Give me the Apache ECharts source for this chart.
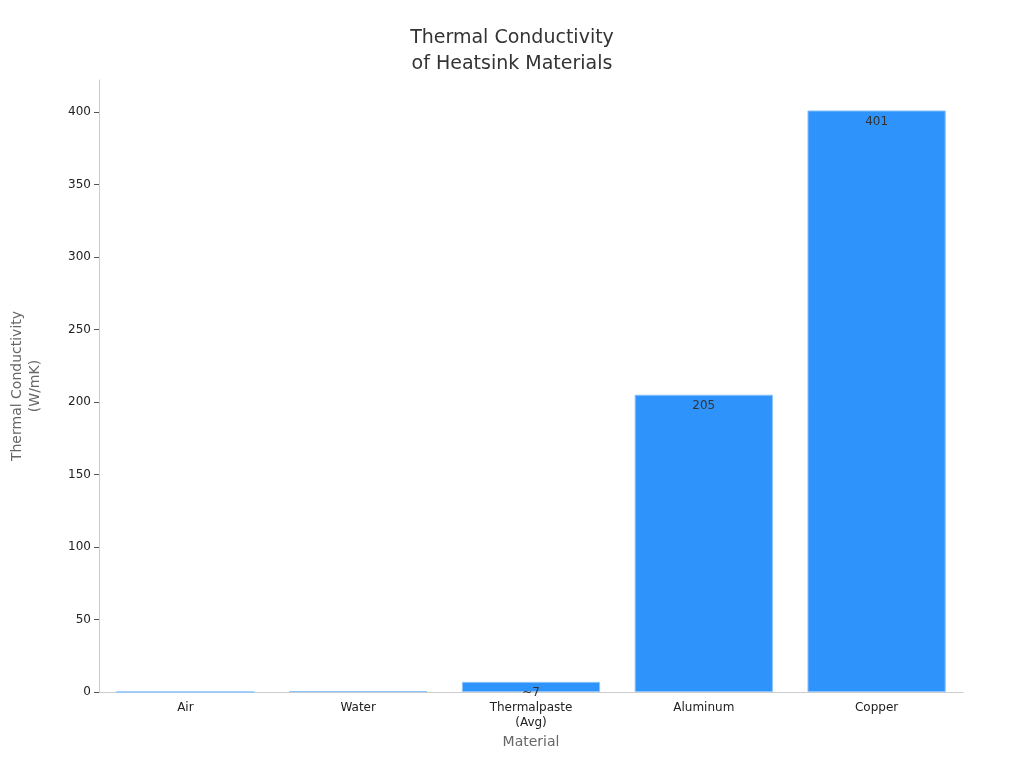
<!DOCTYPE html>
<html>
<head>
<meta charset="utf-8">
<script src="https://cdn.jsdelivr.net/npm/echarts@6/dist/echarts.min.js"></script>
<style>html,body{margin:0;padding:0;background:#fff}#chart{width:1024px;height:768px}</style>
</head>
<body>
<div id="chart"></div>
<script>
const materials = ["Air", "Water", "Thermalpaste\n(Avg)", "Aluminum", "Copper"];
const conductivity = [0.026, 0.6, 7, 205, 401];
const labels = ["", "", "~7", "205", "401"];

const chart = echarts.init(document.getElementById("chart"));
chart.setOption({
  textStyle: { fontFamily: "DejaVu Sans" },
  title: {
    text: "Thermal Conductivity\nof Heatsink Materials",
    left: "center",
    top: 20,
    textStyle: { fontSize: 19, fontWeight: "normal", color: "#333", lineHeight: 26 }
  },
  grid: { left: 87, right: 61, top: 80, bottom: 76 },
  xAxis: {
    type: "category",
    data: materials,
    name: "Material",
    nameLocation: "middle",
    nameGap: 42,
    nameTextStyle: { fontSize: 14, color: "#666" },
    axisLine: { lineStyle: { color: "#ccc" } },
    axisTick: { alignWithLabel: true, lineStyle: { color: "#555" } },
    axisLabel: { color: "#222", fontSize: 12, lineHeight: 15 }
  },
  yAxis: {
    type: "value",
    min: 0,
    max: 422,
    interval: 50,
    name: "Thermal Conductivity\n(W/mK)",
    nameLocation: "middle",
    nameGap: 55,
    nameTextStyle: { fontSize: 14, color: "#666", lineHeight: 18 },
    axisLine: { show: true, lineStyle: { color: "#ccc" } },
    axisTick: { show: true, lineStyle: { color: "#555" } },
    axisLabel: { color: "#222", fontSize: 12, showMaxLabel: false },
    splitLine: { show: false }
  },
  series: [{
    type: "bar",
    data: conductivity,
    barWidth: "80%",
    itemStyle: { color: "#2e93fa", borderColor: "#8cc4fb", borderWidth: 1 },
    label: {
      show: true,
      position: "insideTop",
      color: "#333",
      fontSize: 12,
      formatter: p => labels[p.dataIndex]
    }
  }]
});
</script>
</body>
</html>
